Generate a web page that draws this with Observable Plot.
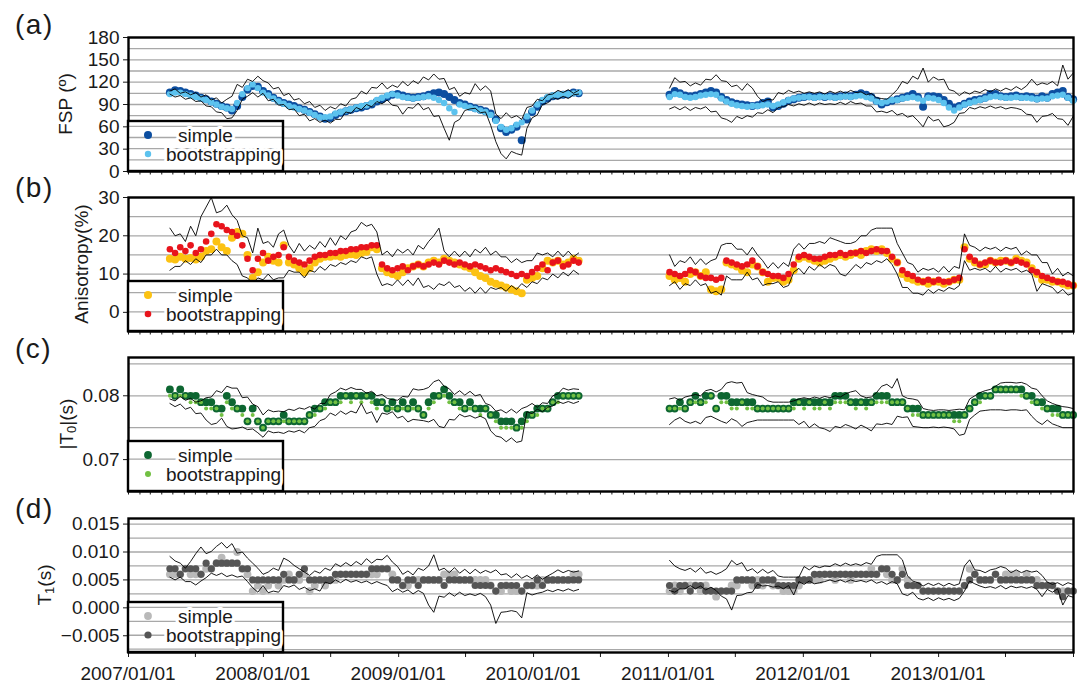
<!DOCTYPE html>
<html><head><meta charset="utf-8">
<script src="https://cdn.jsdelivr.net/npm/d3@7"></script>
<script src="https://cdn.jsdelivr.net/npm/@observablehq/plot@0.6"></script>
<style>
html,body{margin:0;padding:0;background:#fff;}
#chart{position:relative;width:1082px;height:687px;overflow:hidden;font-family:"Liberation Sans",Arial,Helvetica,sans-serif;}
#chart svg{position:absolute;left:0;}
</style></head><body><div id="chart"></div>
<script>
// ---- sampling of the two observation periods (every 14 days) ----
const seg1Start = "2007-04-23", seg2Start = "2011-01-04", stepDays = 14;

// ---- (a) FSP (deg) ----
const fspSimple1 = [106,109,108,106,104,102,99,97,94,91,88,86,82,88,100,110,115,114,108,104,99,95,92,90,88,85,83,80,77,74,71,72,76,79,81,83,85,86,88,90,94,97,100,103,104,102,100,99,100,101,103,105,106,104,100,96,92,90,87,85,83,81,78,70,58,53,56,60,42,70,80,87,94,98,101,102,103,104,106,105];
const fspBoot1 = [104,106,106,104,102,100,98,96,93,90,87,85,84,92,104,112,117,112,106,102,98,94,91,88,86,84,82,79,76,73,73,74,78,80,82,84,86,88,89,92,96,99,102,104,102,100,99,98,99,100,101,99,96,92,85,80,90,88,86,84,82,80,76,68,60,56,58,63,66,74,82,90,96,100,102,103,104,104,105,106];
const fspUpper1 = [108,111,105,107,103,106,100,103,96,99,92,97,101,117,113,124,121,128,122,119,111,113,102,105,96,98,91,94,86,89,82,87,84,91,88,97,99,108,104,113,112,119,111,116,113,121,115,122,118,127,123,131,124,125,110,113,101,106,104,118,109,115,108,77,71,79,72,75,70,86,88,97,95,103,104,109,106,110,105,109];
const fspLower1 = [104,100,102,97,99,94,95,88,87,80,79,71,72,82,97,101,106,100,105,95,97,89,90,83,84,75,77,68,71,66,69,65,70,70,80,78,86,83,90,87,94,91,96,89,88,77,86,85,92,83,86,74,75,58,42,66,70,82,84,85,79,80,62,40,24,17,27,24,22,58,72,76,90,92,99,97,101,98,103,104];
const fspSimple2 = [103,108,105,102,101,102,104,106,108,106,100,96,93,91,90,89,88,89,92,94,86,88,91,95,97,99,100,101,100,101,100,101,100,101,102,101,103,105,103,100,95,90,93,95,97,99,101,104,100,87,101,101,100,96,91,86,88,91,94,96,97,99,104,104,101,100,101,102,100,101,100,98,101,99,104,106,108,100,97];
const fspBoot2 = [100,104,103,100,99,100,102,103,104,103,98,94,91,89,88,87,88,88,89,90,88,90,93,96,98,99,100,100,99,100,100,100,99,100,101,100,101,102,100,98,94,92,94,96,96,98,99,100,98,95,99,98,96,92,86,82,86,90,92,94,96,98,100,101,100,99,99,100,99,99,98,97,98,98,101,102,103,99,95];
const fspUpper2 = [112,126,120,121,115,119,116,124,123,130,122,121,114,116,109,118,112,101,94,97,96,106,104,109,106,108,105,107,105,107,104,108,105,108,105,109,106,107,103,105,99,98,97,103,110,121,118,128,124,139,120,127,123,124,110,108,102,107,104,108,106,110,107,111,108,112,109,114,110,115,124,116,119,117,121,115,143,124,132];
const fspLower2 = [84,87,83,87,82,86,84,87,80,81,72,70,66,74,71,75,73,79,78,83,79,86,87,90,88,91,89,92,89,92,90,91,90,93,90,94,91,92,88,88,80,81,79,82,76,78,73,75,68,60,74,68,70,60,62,66,78,79,86,84,87,85,88,85,87,84,86,85,83,77,76,66,74,75,78,71,70,62,74];

// ---- (b) Anisotropy (%) ----
const aniSimple1 = [14.0,13.8,14.5,14.0,14.2,13.8,14.5,16.0,16.5,18.5,17.0,16.0,19.5,21.0,20.5,15.0,9.0,10.5,13.0,14.5,13.5,13.0,17.5,13.0,12.5,11.5,10.5,11.5,13.0,14.0,14.5,14.5,14.8,14.5,15.0,15.2,15.0,15.5,15.8,17.0,16.5,11.5,10.5,10.0,9.5,10.5,11.5,12.0,12.5,12.0,13.0,13.5,13.0,14.0,13.5,13.0,12.5,12.0,11.5,10.5,9.5,9.0,8.0,7.5,7.0,6.5,6.0,5.5,5.0,8.5,9.0,9.5,11.5,13.5,13.0,13.5,12.5,13.0,14.0,13.5];
const aniBoot1 = [16.5,15.5,17.0,16.0,17.5,15.5,16.5,18.5,20.5,23.0,22.5,21.5,21.0,20.0,17.5,14.0,11.0,14.0,15.5,13.5,14.5,15.0,17.0,14.5,13.5,13.0,12.5,13.5,14.5,15.0,15.0,15.5,15.5,16.0,16.0,16.5,16.5,17.0,17.0,17.5,17.5,12.5,11.5,11.0,11.5,12.0,11.0,12.0,12.5,12.0,12.5,13.0,12.5,13.5,13.0,12.5,13.0,12.5,12.0,12.5,12.0,11.5,11.0,11.5,11.0,10.5,10.0,9.5,10.0,9.5,10.5,11.5,12.5,11.0,13.0,13.5,12.0,12.5,13.5,13.0];
const aniUpper1 = [22.0,20.0,20.5,18.5,22.5,20.0,25.0,27.5,30.0,26.0,26.5,28.0,25.5,24.0,20.0,19.5,15.5,22.0,18.0,18.5,17.0,20.5,21.5,17.5,15.5,18.0,16.0,17.5,16.5,18.5,17.0,19.5,17.5,20.0,19.0,21.0,21.5,23.5,22.5,23.0,21.0,15.0,16.0,14.5,16.5,15.5,16.5,15.0,17.5,16.5,18.5,20.0,22.0,16.0,14.5,16.0,14.5,16.0,14.5,16.5,15.5,17.0,15.0,16.0,14.5,14.5,13.0,14.0,13.0,13.5,13.5,15.5,15.0,15.5,14.5,16.0,14.5,16.0,14.5,15.5];
const aniLower1 = [11.0,12.0,12.0,13.5,12.5,14.0,13.0,15.0,15.0,16.5,15.0,15.0,13.5,12.5,9.5,9.0,7.5,9.0,8.5,10.0,8.5,9.0,9.0,11.0,10.5,10.5,9.0,11.0,10.5,12.0,11.0,12.5,12.0,13.0,12.5,13.5,13.0,14.5,14.0,14.5,10.0,7.0,7.5,7.0,8.5,7.0,8.5,7.0,9.0,6.5,7.0,6.0,7.5,7.0,8.0,6.5,7.0,5.5,6.5,5.0,6.5,5.0,6.5,6.0,6.5,5.5,7.0,6.0,7.5,6.5,8.0,7.5,9.0,8.5,10.0,9.0,10.5,9.5,11.0,10.0];
const aniSimple2 = [9.5,8.5,9.0,8.0,10.0,10.5,9.5,10.5,6.0,5.5,6.0,13.0,12.5,12.0,11.0,10.5,12.5,12.0,10.5,8.0,9.0,9.0,8.0,8.5,11.0,14.0,14.5,14.0,13.5,13.0,13.5,14.0,14.5,15.0,14.5,15.0,15.5,15.0,16.0,16.5,16.0,16.5,15.5,14.0,13.0,10.0,9.0,8.5,8.0,8.0,7.5,8.0,8.0,7.5,8.0,8.5,8.5,17.0,14.0,13.0,12.5,12.5,13.5,13.0,13.5,13.5,13.0,14.0,13.5,13.0,11.5,10.0,8.5,8.5,8.0,8.0,7.5,7.0,7.0];
const aniBoot2 = [10.5,10.0,9.5,10.0,11.0,10.5,9.5,9.0,9.0,8.5,9.0,13.5,13.0,12.5,12.0,12.5,13.5,12.0,10.5,10.0,9.5,9.5,9.0,10.0,12.5,14.5,15.0,14.5,14.0,14.0,14.5,15.0,15.0,15.5,15.0,15.5,15.5,16.0,15.5,16.0,16.5,16.0,16.0,14.5,13.0,11.0,10.0,9.5,8.5,8.0,8.5,8.0,8.5,8.0,8.0,8.5,9.0,16.5,14.5,13.5,12.5,13.0,13.5,13.0,13.0,13.5,13.0,13.5,13.0,12.5,11.0,10.5,9.5,9.0,8.5,8.0,8.0,7.5,7.0];
const aniUpper2 = [15.0,12.0,13.5,13.0,14.5,12.5,14.0,12.5,13.5,14.0,17.5,18.0,18.0,16.5,16.5,15.0,17.0,15.0,13.5,11.5,13.0,11.5,13.0,12.0,16.5,18.0,16.5,18.0,18.0,18.5,18.0,19.5,19.0,18.5,18.0,18.0,18.5,20.0,20.0,21.5,22.0,22.0,22.0,22.0,18.0,15.5,13.0,12.5,10.5,11.5,11.0,11.5,10.5,12.0,10.5,12.0,11.5,20.5,17.5,17.0,16.0,17.0,16.5,17.0,16.0,17.0,16.5,17.0,15.0,16.0,15.0,15.0,13.0,13.0,10.0,11.5,9.5,10.5,9.5];
const aniLower2 = [7.0,8.0,6.0,7.5,7.0,8.5,7.0,7.5,5.0,5.5,4.5,9.5,8.5,8.5,8.5,10.5,8.5,9.0,7.0,7.5,7.5,8.0,6.5,7.0,10.5,11.5,10.0,12.0,11.0,12.5,11.5,12.5,12.0,10.0,9.5,11.0,12.5,11.5,13.0,12.5,13.5,13.0,14.0,12.5,10.0,6.5,6.5,5.0,5.0,4.5,6.0,5.0,6.0,5.5,6.5,6.0,7.0,13.5,11.0,11.5,11.0,11.5,10.5,12.0,10.5,11.5,11.0,11.5,10.5,11.0,10.0,5.5,7.5,7.0,6.5,5.0,6.0,4.5,5.0];

// ---- (c) |T0| (s) ----
const t0Simple1 = [0.081,0.080,0.081,0.080,0.080,0.080,0.079,0.079,0.079,0.078,0.078,0.080,0.079,0.078,0.078,0.076,0.078,0.076,0.075,0.076,0.076,0.076,0.077,0.076,0.076,0.076,0.076,0.077,0.078,0.078,0.079,0.079,0.079,0.080,0.080,0.080,0.080,0.080,0.080,0.080,0.079,0.079,0.078,0.079,0.078,0.079,0.078,0.079,0.078,0.077,0.079,0.080,0.080,0.081,0.080,0.079,0.079,0.078,0.079,0.078,0.078,0.078,0.077,0.077,0.076,0.076,0.076,0.075,0.076,0.077,0.077,0.078,0.078,0.078,0.079,0.080,0.080,0.080,0.080,0.080];
const t0Boot1 = [0.080,0.080,0.080,0.080,0.079,0.079,0.079,0.078,0.078,0.078,0.077,0.079,0.078,0.078,0.077,0.076,0.077,0.076,0.075,0.076,0.076,0.076,0.076,0.076,0.076,0.076,0.076,0.077,0.077,0.078,0.078,0.079,0.079,0.079,0.080,0.079,0.080,0.079,0.080,0.079,0.078,0.079,0.078,0.078,0.078,0.078,0.078,0.078,0.078,0.077,0.078,0.079,0.080,0.080,0.079,0.079,0.078,0.078,0.078,0.078,0.077,0.078,0.077,0.076,0.075,0.075,0.075,0.075,0.075,0.076,0.077,0.077,0.078,0.078,0.079,0.079,0.080,0.080,0.080,0.080];
const t0Upper1 = [0.0795,0.0792,0.0799,0.0793,0.0796,0.0790,0.0792,0.0797,0.0798,0.0808,0.0805,0.0815,0.0812,0.0812,0.0797,0.0798,0.0787,0.0783,0.0770,0.0778,0.0775,0.0776,0.0775,0.0779,0.0777,0.0781,0.0779,0.0783,0.0779,0.0788,0.0788,0.0802,0.0806,0.0812,0.0809,0.0813,0.0810,0.0810,0.0804,0.0807,0.0800,0.0802,0.0796,0.0794,0.0793,0.0799,0.0798,0.0811,0.0809,0.0810,0.0813,0.0822,0.0825,0.0815,0.0811,0.0802,0.0808,0.0801,0.0807,0.0800,0.0802,0.0788,0.0785,0.0776,0.0778,0.0773,0.0779,0.0773,0.0780,0.0783,0.0788,0.0782,0.0789,0.0788,0.0800,0.0803,0.0812,0.0809,0.0811,0.0810];
const t0Lower1 = [0.0788,0.0783,0.0787,0.0779,0.0782,0.0772,0.0773,0.0762,0.0755,0.0757,0.0765,0.0752,0.0748,0.0749,0.0751,0.0747,0.0748,0.0742,0.0735,0.0745,0.0742,0.0743,0.0741,0.0745,0.0743,0.0746,0.0742,0.0750,0.0752,0.0761,0.0764,0.0773,0.0769,0.0776,0.0771,0.0776,0.0773,0.0788,0.0772,0.0775,0.0758,0.0773,0.0771,0.0775,0.0765,0.0768,0.0759,0.0763,0.0762,0.0761,0.0759,0.0763,0.0752,0.0750,0.0763,0.0762,0.0771,0.0767,0.0769,0.0765,0.0768,0.0764,0.0745,0.0737,0.0735,0.0728,0.0734,0.0727,0.0729,0.0775,0.0772,0.0779,0.0775,0.0782,0.0784,0.0791,0.0788,0.0791,0.0788,0.0791];
const t0Simple2 = [0.078,0.078,0.079,0.078,0.079,0.080,0.079,0.080,0.080,0.078,0.080,0.080,0.079,0.079,0.079,0.079,0.079,0.078,0.078,0.078,0.078,0.078,0.078,0.078,0.079,0.079,0.079,0.079,0.079,0.079,0.079,0.079,0.080,0.080,0.080,0.079,0.079,0.079,0.079,0.079,0.080,0.080,0.080,0.079,0.079,0.079,0.078,0.078,0.078,0.077,0.077,0.077,0.077,0.077,0.077,0.077,0.077,0.077,0.078,0.079,0.080,0.080,0.080,0.081,0.081,0.081,0.081,0.081,0.081,0.080,0.080,0.079,0.079,0.078,0.078,0.078,0.077,0.077,0.077];
const t0Boot2 = [0.078,0.078,0.078,0.078,0.079,0.079,0.079,0.079,0.080,0.078,0.079,0.079,0.078,0.078,0.079,0.078,0.078,0.078,0.078,0.078,0.078,0.078,0.078,0.078,0.078,0.079,0.078,0.079,0.078,0.078,0.079,0.078,0.079,0.079,0.079,0.079,0.078,0.079,0.078,0.079,0.079,0.079,0.079,0.079,0.079,0.079,0.078,0.077,0.077,0.077,0.077,0.077,0.077,0.077,0.077,0.076,0.076,0.077,0.078,0.079,0.079,0.080,0.080,0.081,0.081,0.081,0.081,0.081,0.080,0.080,0.079,0.079,0.078,0.078,0.077,0.077,0.077,0.077,0.077];
const t0Upper2 = [0.0795,0.0797,0.0793,0.0798,0.0800,0.0802,0.0800,0.0808,0.0810,0.0806,0.0810,0.0820,0.0822,0.0820,0.0821,0.0805,0.0802,0.0800,0.0798,0.0792,0.0790,0.0790,0.0790,0.0790,0.0792,0.0795,0.0797,0.0795,0.0798,0.0796,0.0799,0.0797,0.0800,0.0798,0.0803,0.0806,0.0808,0.0800,0.0797,0.0798,0.0805,0.0815,0.0818,0.0812,0.0827,0.0800,0.0796,0.0795,0.0793,0.0780,0.0778,0.0777,0.0778,0.0778,0.0777,0.0778,0.0779,0.0778,0.0795,0.0800,0.0805,0.0808,0.0810,0.0815,0.0820,0.0821,0.0821,0.0820,0.0821,0.0818,0.0812,0.0810,0.0800,0.0792,0.0788,0.0785,0.0783,0.0782,0.0780];
const t0Lower2 = [0.0755,0.0762,0.0766,0.0760,0.0757,0.0760,0.0756,0.0766,0.0768,0.0764,0.0760,0.0757,0.0764,0.0760,0.0752,0.0758,0.0760,0.0762,0.0762,0.0762,0.0762,0.0762,0.0762,0.0762,0.0762,0.0755,0.0760,0.0750,0.0756,0.0750,0.0748,0.0744,0.0752,0.0750,0.0755,0.0752,0.0748,0.0754,0.0750,0.0745,0.0756,0.0755,0.0757,0.0755,0.0768,0.0766,0.0767,0.0752,0.0751,0.0750,0.0750,0.0751,0.0750,0.0751,0.0750,0.0748,0.0738,0.0740,0.0763,0.0770,0.0776,0.0777,0.0778,0.0778,0.0778,0.0777,0.0778,0.0778,0.0777,0.0778,0.0768,0.0760,0.0755,0.0762,0.0756,0.0753,0.0750,0.0750,0.0750];

// ---- (d) T1 (s) ----
const t1Simple1 = [0.006,0.006,0.006,0.007,0.006,0.006,0.006,0.007,0.007,0.008,0.009,0.008,0.008,0.010,0.007,0.006,0.003,0.004,0.003,0.004,0.005,0.004,0.005,0.006,0.005,0.005,0.006,0.003,0.004,0.005,0.004,0.005,0.005,0.006,0.006,0.006,0.006,0.006,0.006,0.006,0.006,0.007,0.007,0.006,0.005,0.004,0.004,0.005,0.005,0.005,0.005,0.005,0.005,0.006,0.006,0.006,0.005,0.005,0.005,0.005,0.005,0.005,0.004,0.003,0.003,0.004,0.003,0.003,0.003,0.004,0.004,0.004,0.005,0.005,0.005,0.005,0.005,0.005,0.006,0.006];
const t1Boot1 = [0.007,0.007,0.006,0.007,0.007,0.007,0.006,0.008,0.007,0.008,0.008,0.008,0.008,0.008,0.007,0.007,0.005,0.005,0.005,0.005,0.005,0.005,0.006,0.005,0.005,0.006,0.007,0.005,0.005,0.005,0.005,0.005,0.006,0.006,0.006,0.006,0.006,0.006,0.006,0.007,0.007,0.007,0.007,0.005,0.005,0.004,0.005,0.005,0.004,0.005,0.005,0.005,0.005,0.004,0.005,0.005,0.005,0.005,0.005,0.004,0.004,0.004,0.004,0.003,0.004,0.004,0.004,0.004,0.003,0.004,0.004,0.005,0.004,0.005,0.005,0.005,0.005,0.005,0.005,0.005];
const t1Upper1 = [0.0092,0.0084,0.0080,0.0071,0.0083,0.0097,0.0109,0.0097,0.0101,0.0110,0.0117,0.0107,0.0115,0.0098,0.0100,0.0089,0.0080,0.0071,0.0060,0.0064,0.0071,0.0067,0.0089,0.0084,0.0076,0.0070,0.0064,0.0058,0.0066,0.0062,0.0071,0.0067,0.0079,0.0074,0.0081,0.0075,0.0083,0.0077,0.0088,0.0080,0.0087,0.0086,0.0094,0.0082,0.0074,0.0060,0.0066,0.0059,0.0071,0.0067,0.0075,0.0095,0.0067,0.0071,0.0063,0.0072,0.0062,0.0069,0.0061,0.0069,0.0062,0.0067,0.0063,0.0068,0.0059,0.0061,0.0054,0.0061,0.0053,0.0058,0.0052,0.0059,0.0051,0.0057,0.0062,0.0068,0.0063,0.0067,0.0064,0.0066];
const t1Lower1 = [0.0055,0.0050,0.0055,0.0047,0.0047,0.0041,0.0048,0.0054,0.0062,0.0058,0.0062,0.0056,0.0059,0.0055,0.0057,0.0047,0.0036,0.0028,0.0040,0.0027,0.0030,0.0028,0.0040,0.0037,0.0041,0.0033,0.0037,0.0031,0.0034,0.0030,0.0046,0.0043,0.0050,0.0045,0.0051,0.0046,0.0049,0.0045,0.0048,0.0043,0.0047,0.0043,0.0040,0.0029,0.0034,0.0028,0.0032,0.0025,0.0031,0.0026,0.0005,-0.0008,0.0021,0.0019,0.0027,0.0021,0.0028,0.0022,0.0025,0.0022,0.0026,0.0020,0.0005,-0.0028,-0.0008,-0.0007,-0.0005,-0.0007,-0.0018,0.0027,0.0023,0.0026,0.0028,0.0032,0.0029,0.0033,0.0030,0.0034,0.0030,0.0033];
const t1Simple2 = [0.003,0.004,0.003,0.004,0.004,0.004,0.003,0.004,0.003,0.002,0.003,0.003,0.004,0.004,0.005,0.005,0.004,0.005,0.004,0.005,0.004,0.004,0.003,0.003,0.003,0.004,0.005,0.005,0.005,0.005,0.006,0.006,0.005,0.006,0.006,0.005,0.006,0.006,0.006,0.007,0.006,0.007,0.006,0.005,0.005,0.007,0.005,0.004,0.004,0.003,0.003,0.003,0.003,0.003,0.003,0.003,0.003,0.004,0.007,0.006,0.005,0.005,0.005,0.006,0.005,0.006,0.006,0.006,0.005,0.006,0.005,0.005,0.004,0.004,0.004,0.003,0.003,0.003,0.003];
const t1Boot2 = [0.004,0.003,0.004,0.004,0.003,0.004,0.004,0.003,0.003,0.003,0.003,0.003,0.003,0.005,0.005,0.005,0.005,0.004,0.005,0.005,0.005,0.004,0.004,0.004,0.004,0.005,0.005,0.005,0.006,0.006,0.006,0.006,0.006,0.006,0.006,0.006,0.006,0.006,0.006,0.006,0.006,0.007,0.007,0.006,0.005,0.006,0.004,0.004,0.004,0.003,0.003,0.003,0.003,0.003,0.003,0.003,0.003,0.004,0.005,0.006,0.005,0.005,0.005,0.006,0.005,0.005,0.005,0.005,0.005,0.005,0.005,0.004,0.004,0.004,0.004,0.003,0.002,0.003,0.003];
const t1Upper2 = [0.0085,0.0075,0.0070,0.0067,0.0071,0.0064,0.0072,0.0062,0.0065,0.0060,0.0064,0.0070,0.0085,0.0077,0.0081,0.0066,0.0070,0.0062,0.0069,0.0062,0.0067,0.0057,0.0055,0.0055,0.0055,0.0055,0.0074,0.0068,0.0075,0.0072,0.0075,0.0074,0.0079,0.0075,0.0080,0.0076,0.0079,0.0076,0.0081,0.0078,0.0092,0.0095,0.0095,0.0095,0.0095,0.0086,0.0057,0.0048,0.0045,0.0039,0.0044,0.0040,0.0044,0.0039,0.0044,0.0040,0.0043,0.0075,0.0086,0.0068,0.0067,0.0063,0.0068,0.0070,0.0074,0.0071,0.0063,0.0068,0.0063,0.0067,0.0064,0.0066,0.0058,0.0046,0.0042,0.0045,0.0040,0.0045,0.0042];
const t1Lower2 = [0.0031,0.0028,0.0034,0.0034,0.0040,0.0034,0.0039,0.0032,0.0037,0.0031,0.0021,0.0016,-0.0004,0.0022,0.0023,0.0027,0.0028,0.0042,0.0039,0.0040,0.0037,0.0039,0.0034,0.0040,0.0023,0.0047,0.0042,0.0048,0.0043,0.0045,0.0047,0.0050,0.0047,0.0050,0.0046,0.0050,0.0047,0.0049,0.0046,0.0050,0.0044,0.0047,0.0042,0.0047,0.0043,0.0025,0.0022,0.0028,0.0017,0.0014,0.0018,0.0013,0.0018,0.0014,0.0017,0.0013,0.0017,0.0030,0.0048,0.0043,0.0039,0.0036,0.0038,0.0035,0.0040,0.0034,0.0039,0.0036,0.0038,0.0035,0.0038,0.0033,0.0020,0.0033,0.0028,0.0034,0.0005,0.0022,0.0019];

// ---- axis / legend text ----
const xTickLabels = ["2007/01/01","2008/01/01","2009/01/01","2010/01/01","2011/01/01","2012/01/01","2013/01/01"];
const seriesNames = ["simple", "bootstrapping"];
const panelLetters = ["(a)", "(b)", "(c)", "(d)"];

// ---------------------------------------------------------------
const FONT = '"Liberation Sans", Arial, Helvetica, sans-serif';
const W = 1082, ML = 128, MR = 9;
const xDomain = [new Date(Date.UTC(2007,0,1)), new Date(Date.UTC(2014,0,1))];
const monthTicks = d3.utcMonth.range(xDomain[0], new Date(Date.UTC(2014,0,2)));
const halfYearTicks = d3.utcMonth.every(6).range(xDomain[0], new Date(Date.UTC(2014,0,2)));
const xPix = d3.scaleUtc(xDomain, [ML, W - MR]);   // same mapping as the plots' x scale

function rows(a1, a2) {
  const d1 = new Date(seg1Start + "T00:00:00Z"), d2 = new Date(seg2Start + "T00:00:00Z");
  return [
    ...a1.map((v, i) => ({date: d3.utcDay.offset(d1, i * stepDays), v, seg: 1})),
    ...a2.map((v, i) => ({date: d3.utcDay.offset(d2, i * stepDays), v, seg: 2}))
  ];
}

const panels = [
  {top: 0, height: 185, mt: 37, mb: 14, domain: [0, 180], ticks: [0,30,60,90,120,150,180], fmt: d3.format("d"),
   grid: d3.range(0, 181, 15),
   simple: rows(fspSimple1, fspSimple2), boot: rows(fspBoot1, fspBoot2), upper: rows(fspUpper1, fspUpper2), lower: rows(fspLower1, fspLower2),
   cS: "#0c4ea0", cB: "#5cc2ee", rS: 4.0, rB: 3.2, lx: 15, ly: 24, title: [["FSP (º)", null]], tx: 65},
  {top: 185, height: 160, mt: 12, mb: 14, domain: [-5, 30], ticks: [0,10,20,30], fmt: d3.format("d"),
   grid: d3.range(-5, 31, 5),
   simple: rows(aniSimple1, aniSimple2), boot: rows(aniBoot1, aniBoot2), upper: rows(aniUpper1, aniUpper2), lower: rows(aniLower1, aniLower2),
   cS: "#fcc212", cB: "#e8141c", rS: 4.0, rB: 3.3, lx: 15, ly: 187, title: [["Anisotropy(%)", null]], tx: 81},
  {top: 345, height: 160, mt: 12, mb: 14, domain: [0.065, 0.086], ticks: [0.07, 0.08], fmt: d3.format(".2f"),
   grid: [0.065, 0.07, 0.075, 0.08, 0.085],
   simple: rows(t0Simple1, t0Simple2), boot: rows(t0Boot1, t0Boot2), upper: rows(t0Upper1, t0Upper2), lower: rows(t0Lower1, t0Lower2),
   cS: "#0d6631", cB: "#72c043", rS: 3.9, rB: 2.0, lx: 15, ly: 348, title: [["|T", null], ["0", "sub"], ["|(s)", null]], tx: 66},
  {top: 505, height: 182, mt: 13, mb: 35, domain: [-0.008, 0.016], ticks: [-0.005, 0, 0.005, 0.01, 0.015], fmt: d3.format(".3f"),
   grid: d3.range(-7.5, 15.1, 2.5).map(v => v / 1000),
   simple: rows(t1Simple1, t1Simple2), boot: rows(t1Boot1, t1Boot2), upper: rows(t1Upper1, t1Upper2), lower: rows(t1Lower1, t1Lower2),
   cS: "#b9b9b9", cB: "#555555", rS: 3.9, rB: 3.6, lx: 15, ly: 508, title: [["T", null], ["1", "sub"], ["(s)", null]], tx: 44, last: true}
];

const chart = document.getElementById("chart");
const GRID = "#a8a8a8";

panels.forEach((p, k) => {
  const plot = Plot.plot({
    width: W, height: p.height,
    marginLeft: ML, marginRight: MR, marginTop: p.mt, marginBottom: p.mb,
    style: {fontSize: "19px", fontFamily: FONT, color: "#1a1a1a", background: "transparent", overflow: "visible"},
    x: {type: "utc", domain: xDomain, label: null,
        ticks: p.last ? halfYearTicks : monthTicks,
        tickSize: p.last ? 5 : 3.5, tickPadding: 4, tickFormat: () => ""},
    y: {domain: p.domain, ticks: p.ticks, tickFormat: p.fmt, tickSize: 5, tickPadding: 4, label: null},
    marks: [
      Plot.ruleY(p.grid, {stroke: GRID, strokeWidth: 1.3}),
      Plot.dot(p.simple, {x: "date", y: "v", r: p.rS, fill: p.cS}),
      Plot.dot(p.boot, {x: "date", y: "v", r: p.rB, fill: p.cB}),
      Plot.line(p.upper, {x: "date", y: "v", z: "seg", stroke: "#000", strokeWidth: 0.9}),
      Plot.line(p.lower, {x: "date", y: "v", z: "seg", stroke: "#000", strokeWidth: 0.9}),
      Plot.frame({stroke: "#000", strokeWidth: 2.4})
    ]
  });
  plot.style.top = p.top + "px";
  chart.appendChild(plot);

  // legend box (lower-left corner of the frame)
  const svg = d3.select(plot);
  const fb = p.height - p.mb;
  const ph = p.height - p.mt - p.mb;
  const ypx = v => p.mt + (p.domain[1] - v) / (p.domain[1] - p.domain[0]) * ph;
  const bw = 155, bh = 50, x0 = ML, y0 = fb - bh;
  const g = svg.append("g").attr("text-anchor", "start");
  g.append("rect").attr("x", x0).attr("y", y0).attr("width", bw).attr("height", bh).attr("fill", "#fff");
  p.grid.forEach(v => {
    const y = ypx(v);
    if (y > y0 + 1.5 && y < fb - 1.5)
      g.append("line").attr("x1", x0).attr("x2", x0 + bw).attr("y1", y).attr("y2", y).attr("stroke", GRID).attr("stroke-width", 1.3);
  });
  g.append("rect").attr("x", x0).attr("y", y0).attr("width", bw).attr("height", bh)
    .attr("fill", "none").attr("stroke", "#000").attr("stroke-width", 2.4);
  const items = [
    {name: seriesNames[0], color: p.cS, r: Math.max(p.rS, 3.5), y: fb - 36, tx: 178},
    {name: seriesNames[1], color: p.cB, r: Math.max(p.rB, 3.0), y: fb - 17, tx: 166}
  ];
  items.forEach(it => {
    g.append("circle").attr("cx", 148).attr("cy", it.y).attr("r", it.r).attr("fill", it.color);
    g.append("text").attr("x", it.tx).attr("y", it.y).attr("dy", "0.35em").attr("text-anchor", "start")
      .attr("font-family", FONT).attr("font-size", 19).attr("fill", "#1a1a1a")
      .attr("stroke", "#fff").attr("stroke-width", 6).attr("paint-order", "stroke").attr("stroke-linejoin", "round")
      .text(it.name);
  });
});

// overlay: panel letters, y-axis titles and the date labels of the bottom axis
const ov = d3.select(chart).append("svg").attr("width", W).attr("height", 687)
  .style("top", "0px").style("pointer-events", "none").style("overflow", "visible");
panels.forEach((p, k) => {
  ov.append("text").attr("x", p.lx).attr("y", p.ly).attr("dy", "0.35em")
    .attr("font-family", FONT).attr("font-size", 28).attr("letter-spacing", 1.5).attr("fill", "#1a1a1a")
    .text(panelLetters[k]);
  const cy = p.top + p.mt + (p.height - p.mt - p.mb) / 2;
  const t = ov.append("text").attr("transform", `translate(${p.tx},${cy}) rotate(-90)`)
    .attr("text-anchor", "middle").attr("dy", "0.35em")
    .attr("font-family", FONT).attr("font-size", 19).attr("fill", "#1a1a1a");
  p.title.forEach(([s, kind]) => {
    const ts = t.append("tspan").text(s);
    if (kind === "sub") ts.attr("font-size", 13).attr("baseline-shift", "-25%");
  });
});
xTickLabels.forEach(s => {
  const d = new Date(s.replace(/\//g, "-") + "T00:00:00Z");
  ov.append("text").attr("x", xPix(d)).attr("y", 673).attr("dy", "0.35em")
    .attr("text-anchor", "middle").attr("font-family", FONT).attr("font-size", 19).attr("fill", "#1a1a1a")
    .text(s);
});
</script></body></html>
